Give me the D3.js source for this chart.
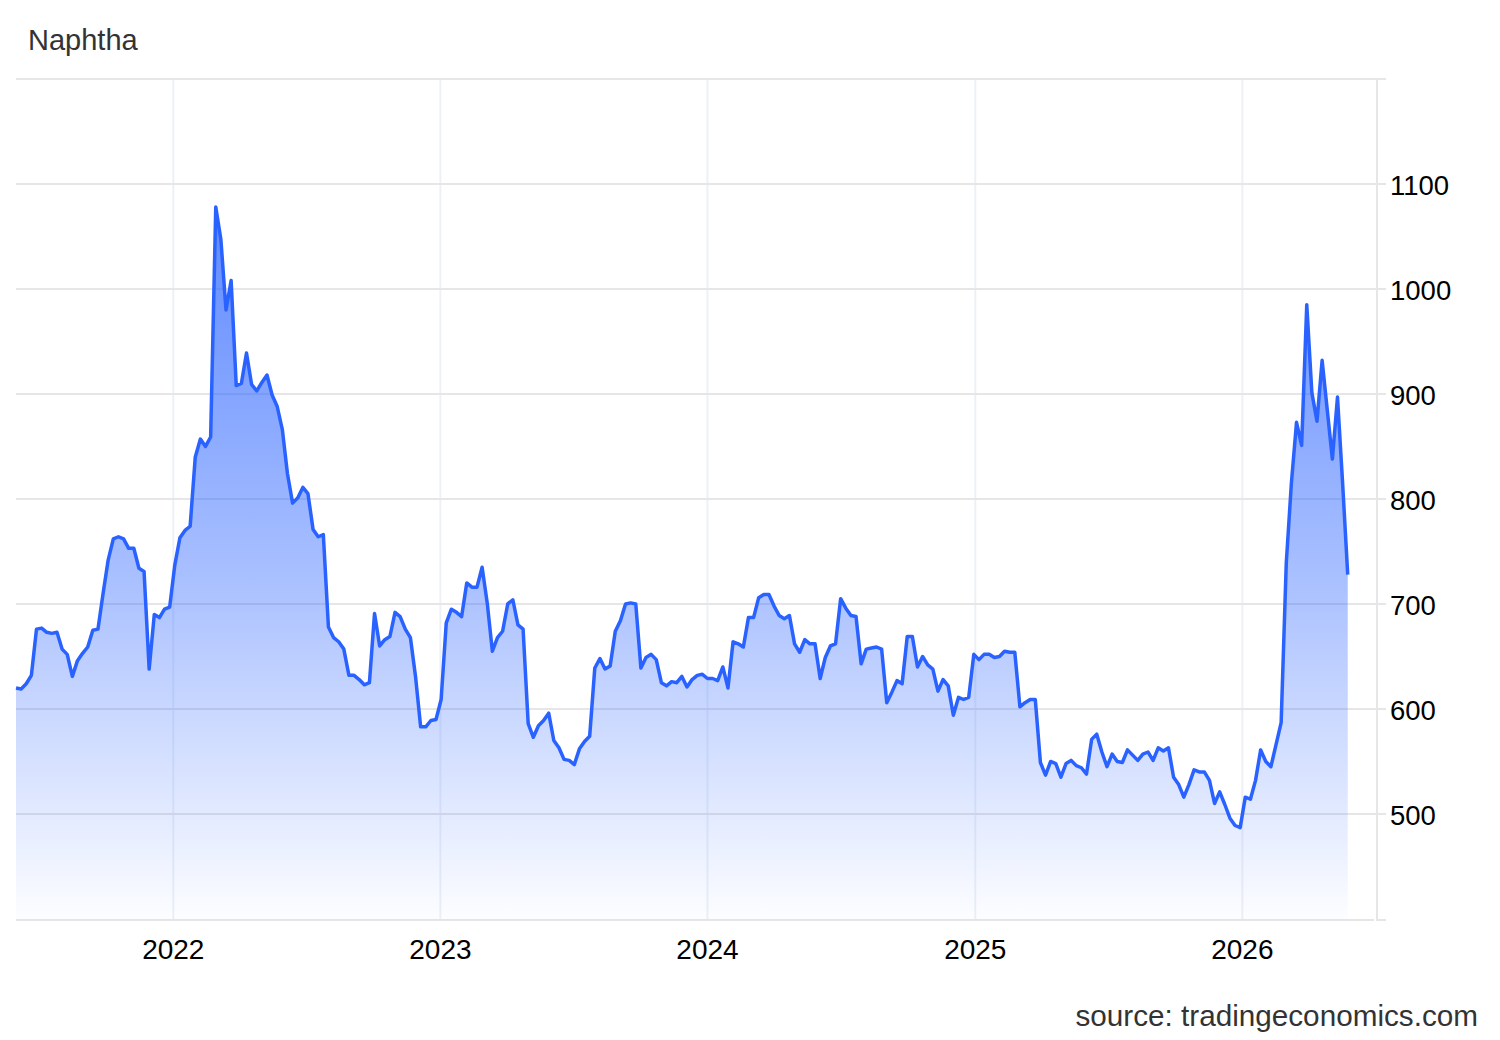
<!DOCTYPE html>
<html>
<head>
<meta charset="utf-8">
<script src="https://cdn.jsdelivr.net/npm/d3@7"></script>
<style>
  body { margin: 0; background: #fff; }
  text { font-family: "Liberation Sans", Arial, sans-serif; }
</style>
</head>
<body>
<svg width="1500" height="1040"></svg>
<script>
// weekly naphtha prices, first week starting on firstWeek
const firstWeek = "2021-05-31";
const prices = [
  621, 620, 625, 633, 677, 678, 674, 673, 674, 658,
  653, 632, 647, 654, 660, 676, 677, 711, 743, 763,
  765, 763, 754, 754, 735, 732, 639, 691, 688, 696,
  698, 738, 764, 771, 775, 841, 858, 851, 860, 1079,
  1048, 981, 1009, 909, 911, 940, 910, 904, 912, 919,
  900, 889, 867, 825, 797, 802, 812, 806, 772, 765,
  767, 679, 669, 665, 658, 633, 633, 629, 624, 626,
  692, 661, 667, 670, 693, 689, 677, 669, 632, 584,
  584, 590, 591, 610, 683, 696, 693, 689, 721, 717,
  717, 736, 702, 656, 669, 675, 701, 705, 681, 677,
  587, 574, 585, 590, 597, 571, 564, 553, 552, 548,
  563, 570, 575, 640, 649, 639, 642, 675, 685, 701,
  702, 701, 640, 650, 653, 648, 626, 623, 627, 626,
  632, 622, 629, 633, 634, 630, 630, 628, 641, 621,
  665, 663, 660, 688, 688, 707, 710, 710, 699, 690,
  687, 690, 663, 655, 667, 663, 663, 630, 650, 661,
  663, 706, 697, 690, 689, 644, 658, 659, 660, 658,
  607, 617, 628, 625, 670, 670, 641, 651, 643, 639,
  618, 629, 623, 595, 612, 610, 612, 653, 648, 653,
  653, 650, 651, 656, 655, 655, 603, 607, 610, 610,
  550, 538, 551, 549, 536, 549, 552, 547, 545, 539,
  572, 577, 560, 546, 558, 551, 550, 562, 557, 552,
  558, 560, 552, 564, 561, 564, 536, 529, 517, 529,
  543, 541, 541, 533, 511, 522, 510, 497, 490, 488,
  517, 515, 533, 562, 551, 546, 567, 588, 740, 816,
  874, 852, 986, 902, 875, 933, 886, 839, 898, 816,
  729
];
const yTicks = [500, 600, 700, 800, 900, 1000, 1100];
const yearTicks = ["2022", "2023", "2024", "2025", "2026"];

const svg = d3.select("svg");
const plotLeft = 16, plotRight = 1377, plotTop = 80, plotBottom = 920;

const parse = d3.timeParse("%Y-%m-%d");
const start = parse(firstWeek);
const data = prices.map((v, i) => ({ date: d3.timeDay.offset(start, i * 7), value: v }));

const x = d3.scaleTime()
    .domain([start, parse("2026-07-04")])
    .range([plotLeft, plotRight]);
const y = d3.scaleLinear()
    .domain([400, 1200])
    .range([plotBottom, plotTop]);

// gradient for the area
const grad = svg.append("defs").append("linearGradient")
    .attr("id", "fill")
    .attr("gradientUnits", "userSpaceOnUse")
    .attr("x1", 0).attr("x2", 0)
    .attr("y1", y(1080)).attr("y2", plotBottom);
grad.append("stop").attr("offset", "0").attr("stop-color", "#2962ff").attr("stop-opacity", 0.75);
grad.append("stop").attr("offset", "0.55").attr("stop-color", "#2962ff").attr("stop-opacity", 0.38);
grad.append("stop").attr("offset", "1").attr("stop-color", "#2962ff").attr("stop-opacity", 0.01);

// vertical year grid
const years = yearTicks.map(d => parse(d + "-01-01"));
svg.append("g")
  .selectAll("line")
  .data(years)
  .join("line")
    .attr("x1", d => x(d)).attr("x2", d => x(d))
    .attr("y1", plotTop - 2).attr("y2", plotBottom)
    .attr("stroke", "#edf1f6")
    .attr("stroke-width", 2);

// horizontal grid (incl. the unlabeled top line)
svg.append("g")
  .selectAll("line")
  .data(yTicks.concat([1200]))
  .join("line")
    .attr("x1", plotLeft).attr("x2", plotRight + 9)
    .attr("y1", d => y(d) - 1).attr("y2", d => y(d) - 1)
    .attr("stroke", "#e6e6e6")
    .attr("stroke-width", 2);

// bottom baseline and right axis line
svg.append("line")
    .attr("x1", plotLeft).attr("x2", plotRight - 3)
    .attr("y1", plotBottom).attr("y2", plotBottom)
    .attr("stroke", "#e6e6e6").attr("stroke-width", 2);
svg.append("line")
    .attr("x1", plotRight).attr("x2", plotRight + 9)
    .attr("y1", plotBottom).attr("y2", plotBottom)
    .attr("stroke", "#e6e6e6").attr("stroke-width", 2);
svg.append("line")
    .attr("x1", plotRight).attr("x2", plotRight)
    .attr("y1", plotTop - 2).attr("y2", plotBottom + 1)
    .attr("stroke", "#e6e6e6").attr("stroke-width", 2);

const area = d3.area()
    .x(d => x(d.date))
    .y0(plotBottom)
    .y1(d => y(d.value));
const line = d3.line()
    .x(d => x(d.date))
    .y(d => y(d.value));

svg.append("path")
    .datum(data)
    .attr("d", area)
    .attr("fill", "url(#fill)");

svg.append("path")
    .datum(data)
    .attr("d", line)
    .attr("fill", "none")
    .attr("stroke", "#2962ff")
    .attr("stroke-width", 3.5)
    .attr("stroke-linejoin", "round");

// y labels on the right
svg.append("g")
  .selectAll("text")
  .data(yTicks)
  .join("text")
    .attr("x", plotRight + 13)
    .attr("y", d => y(d))
    .attr("dy", "0.35em")
    .attr("font-size", 27.5)
    .attr("fill", "#000")
    .text(d => d);

// x labels
svg.append("g")
  .selectAll("text")
  .data(years)
  .join("text")
    .attr("x", d => x(d))
    .attr("y", 959)
    .attr("text-anchor", "middle")
    .attr("font-size", 28)
    .attr("fill", "#000")
    .text(d => d3.timeFormat("%Y")(d));

svg.append("text")
    .attr("x", 28)
    .attr("y", 50)
    .attr("font-size", 29)
    .attr("fill", "#333")
    .text("Naphtha");

svg.append("text")
    .attr("x", 1478)
    .attr("y", 1026)
    .attr("text-anchor", "end")
    .attr("font-size", 29.7)
    .attr("fill", "#333")
    .text("source: tradingeconomics.com");
</script>
</body>
</html>
